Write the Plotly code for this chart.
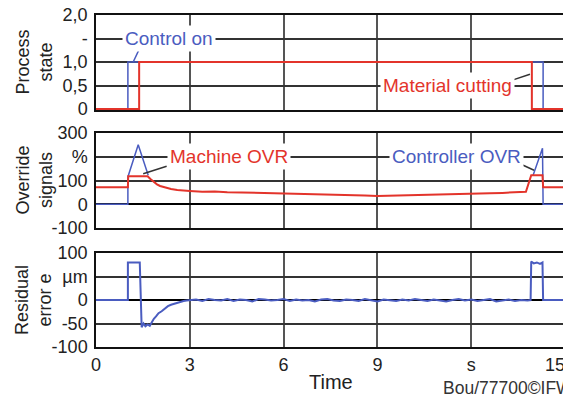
import plotly.graph_objects as go
from plotly.subplots import make_subplots

# ---------------- data ----------------
X_TICKS = [0, 3, 6, 9, 12, 15]
X_TICKTEXT = ["0", "3", "6", "9", "s", "15\u00a0\u00a0\u00a0\u00a0"]

PS_TICKS = [0, 0.5, 1.0, 1.5, 2.0]
PS_TICKTEXT = ["0", "0,5", "1,0", "-", "2,0"]
OVR_TICKS = [-100, 0, 100, 200, 300]
OVR_TICKTEXT = ["-100", "0", "100", "%", "300"]
ERR_TICKS = [-100, -50, 0, 50, 100]
ERR_TICKTEXT = ["-100", "-50", "0", "µm", "100"]

# Process state
CTRL_ON_T = [0, 1.02, 1.02, 14.3, 14.3, 15]
CTRL_ON_V = [0, 0, 1, 1, 0, 0]
CUT_T = [0, 1.38, 1.38, 13.94, 13.94, 15]
CUT_V = [0, 0, 1, 1, 0, 0]

# Override signals
MACH_T = [0, 1.02, 1.03, 1.65, 1.75, 1.85, 1.95, 2.05, 2.2, 2.4, 2.6, 2.8, 3.0,
          3.4, 3.8, 4.2, 4.6, 5.0, 5.4, 5.8, 6.2, 6.6, 7.0, 7.4, 7.8, 8.2, 8.6,
          9.0, 9.4, 9.8, 10.2, 10.6, 11.0, 11.4, 11.8, 12.2, 12.6, 13.0, 13.4,
          13.75, 13.92, 14.28, 14.3, 15.0]
MACH_V = [72, 72, 118, 118, 105, 93, 84, 77, 70, 64, 60, 57, 56,
          53, 54, 51, 50, 49, 47, 46, 45, 43, 42, 41, 39, 38, 37,
          35, 36, 36, 37, 39, 40, 42, 43, 44, 46, 48, 50,
          53, 122, 122, 72, 72]
CTRL_OVR_T = [0, 1.02, 1.02, 1.35, 1.67, 5.0, 13.98, 14.28, 14.3, 15.0]
CTRL_OVR_V = [0, 0, 115, 250, 122, None, 122, 235, 0, 0]

# Residual error
ERR_T = [0, 1.02, 1.02, 1.40, 1.46, 1.52, 1.58, 1.65, 1.72, 1.78, 1.85, 1.92,
         2.0, 2.1, 2.2, 2.3, 2.4, 2.5, 2.6, 2.7, 2.8, 2.9, 3.0,
         3.2, 3.4, 3.6, 3.8, 4.0, 4.2, 4.4, 4.6, 4.8, 5.0,
         5.2, 5.4, 5.6, 5.8, 6.0, 6.2, 6.4, 6.6, 6.8, 7.0,
         7.2, 7.4, 7.6, 7.8, 8.0, 8.2, 8.4, 8.6, 8.8, 9.0,
         9.2, 9.4, 9.6, 9.8, 10.0, 10.2, 10.4, 10.6, 10.8, 11.0,
         11.2, 11.4, 11.6, 11.8, 12.0, 12.2, 12.4, 12.6, 12.8, 13.0,
         13.2, 13.4, 13.6, 13.8, 13.9, 13.92, 14.0, 14.1, 14.2, 14.28, 14.3, 15.0]
ERR_V = [0, 0, 80, 80, -58, -50, -56, -52, -55, -48, -40, -35,
         -28, -24, -18, -13, -10, -8, -5, -3, -2, -1, 0,
         1, -2, 2, 0, -1, 2, -2, 1, 0, -3,
         2, 1, -1, 0, 2, -2, 1, -1, 0, -3,
         1, 2, -1, -2, 1, 0, -2, 2, -1, -3,
         1, 0, -2, 1, -1, 2, 0, -2, 1, -1,
         -3, 0, 2, -1, 1, -2, 0, 2, -3, -1,
         1, -2, 0, -1, 0, 82, 78, 80, 77, 80, 0, 0]

RED = "#e3342b"
BLUE = "#4a5cc0"
FONT = "Liberation Sans, Arial, sans-serif"
TXT = "#222222"

fig = make_subplots(rows=3, cols=1, shared_xaxes=True)

fig.add_trace(go.Scatter(x=CTRL_ON_T, y=CTRL_ON_V, mode="lines",
                         line=dict(color=BLUE, width=1.5)), row=1, col=1)
fig.add_trace(go.Scatter(x=CUT_T, y=CUT_V, mode="lines",
                         line=dict(color=RED, width=2)), row=1, col=1)
fig.add_trace(go.Scatter(x=CTRL_OVR_T, y=CTRL_OVR_V, mode="lines", connectgaps=False,
                         line=dict(color=BLUE, width=1.5)), row=2, col=1)
fig.add_trace(go.Scatter(x=MACH_T, y=MACH_V, mode="lines",
                         line=dict(color=RED, width=2)), row=2, col=1)
fig.add_trace(go.Scatter(x=ERR_T, y=ERR_V, mode="lines",
                         line=dict(color=BLUE, width=2)), row=3, col=1)

common_x = dict(range=[0, 15], tickvals=X_TICKS, ticktext=X_TICKTEXT,
                showgrid=True, gridcolor="#555555", gridwidth=1.5,
                showline=True, linecolor="#111111", linewidth=1.5, mirror=True,
                zeroline=False, ticks="", layer="below traces", automargin=False,
                tickfont=dict(family=FONT, size=18, color=TXT))
fig.update_xaxes(**common_x)
fig.update_xaxes(showticklabels=False, row=1, col=1)
fig.update_xaxes(showticklabels=False, row=2, col=1)
fig.update_xaxes(showticklabels=True, ticklabelstandoff=1, ticklabeloverflow="allow",
                 row=3, col=1)

common_y = dict(showgrid=True, gridcolor="#333333", gridwidth=1.5,
                showline=True, linecolor="#111111", linewidth=1.5, mirror=True,
                ticks="", layer="below traces", ticklabelstandoff=3, automargin=False,
                ticklabeloverflow="allow",
                zeroline=True, zerolinecolor="#000000", zerolinewidth=2,
                tickfont=dict(family=FONT, size=18, color=TXT))
fig.update_yaxes(**common_y)
fig.update_yaxes(range=[-0.02, 2.0], tickvals=PS_TICKS, ticktext=PS_TICKTEXT,
                 domain=[0.714, 1.0], row=1, col=1)
fig.update_yaxes(range=[-100, 300], tickvals=OVR_TICKS, ticktext=OVR_TICKTEXT,
                 domain=[0.358, 0.645], row=2, col=1)
fig.update_yaxes(range=[-100, 100], tickvals=ERR_TICKS, ticktext=ERR_TICKTEXT,
                 domain=[0.0, 0.283], zerolinewidth=1.5, row=3, col=1)

# right border (thick grey)
for yref in ["y", "y2", "y3"]:
    fig.add_shape(type="line", xref="x", yref=yref + " domain", x0=15, x1=15, y0=0, y1=1,
                  line=dict(color="#707070", width=3.5), layer="above")

# leader lines
leaders = [
    ("y", 1.41, 1.31, 1.19, 1.0, BLUE),
    ("y", 13.34, 0.62, 13.88, 0.74, "#333333"),
    ("y2", 1.51, 128, 2.26, 160, "#333333"),
    ("y2", 13.61, 167, 14.01, 143, "#333333"),
]
for yref, x0, y0, x1, y1, c in leaders:
    fig.add_shape(type="line", xref="x", yref=yref, x0=x0, y0=y0, x1=x1, y1=y1,
                  line=dict(color=c, width=1.5), layer="above")

ann = [
    dict(x=2.33, y=1.5, xref="x", yref="y", text="Control on", color=BLUE),
    dict(x=11.24, y=0.5, xref="x", yref="y", text="Material cutting", color=RED),
    dict(x=4.24, y=200, xref="x2", yref="y2", text="Machine OVR", color=RED),
    dict(x=11.53, y=200, xref="x2", yref="y2", text="Controller OVR", color=BLUE),
]
for a in ann:
    fig.add_annotation(x=a["x"], y=a["y"], xref=a["xref"], yref=a["yref"], text=a["text"],
                       showarrow=False, bgcolor="white", borderpad=2,
                       font=dict(family=FONT, size=19, color=a["color"]))

# axis titles
titles = [("Process<br>state", 0.857), ("Override<br>signals", 0.5015),
          ("Residual<br>error e", 0.1416)]
for t, yy in titles:
    fig.add_annotation(x=-0.132, y=yy, xref="paper", yref="paper", text=t,
                       textangle=-90, showarrow=False, xanchor="center", yanchor="middle",
                       font=dict(family=FONT, size=18, color=TXT))

fig.add_annotation(x=0.501, y=-0.105, xref="paper", yref="paper", text="Time",
                   showarrow=False, xanchor="center", yanchor="middle",
                   font=dict(family=FONT, size=20, color=TXT))
fig.add_annotation(x=0.7356, y=-0.1235, xref="paper", yref="paper", text="Bou/77700©IFW",
                   showarrow=False, xanchor="left", yanchor="middle",
                   font=dict(family=FONT, size=17.5, color="#333333"))

# page body keeps an 8px margin: size/margins compensate so the plot lands where intended
fig.update_layout(width=563, height=389, showlegend=False,
                  margin=dict(l=88, r=6, t=7, b=50),
                  paper_bgcolor="white", plot_bgcolor="white")

fig.write_html("out.html")
